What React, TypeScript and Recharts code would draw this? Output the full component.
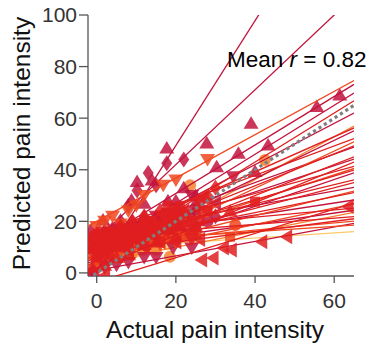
import { ComposedChart, Line, Scatter, XAxis, YAxis, ReferenceDot } from "recharts";

const FONT = "'Liberation Sans', Arial, Helvetica, sans-serif";

// axis ranges and ticks
const X_DOMAIN: [number, number] = [-2.2, 65];
const Y_DOMAIN: [number, number] = [-1.2, 100];
const xTicks = [0, 20, 40, 60];
const yTicks = [0, 20, 40, 60, 80, 100];

const meanR = 0.82;

const PALETTE: Record<string, string> = {
  C: "#c2133d",
  R: "#e01f20",
  O: "#f0471f",
  L: "#f6802c",
  Y: "#fdc86b",
};
// paint order of the colour groups (lowest first)
const LAYER: Record<string, number> = { Y: 0, L: 1, C: 2, O: 3, R: 4 };

// per-subject fit: predicted = intercept + slope * actual
const intercepts = [
  1, 13, 20, 12, 8, 5, 10, 3, 12, 7, 15, 4, 9, 13, 6, 11, 2, 14, 8, 10,
  5, 12, 9, 15, 7, 11, -3.5, 13, 6, 16, 10, 4, 14, 8, 11, 1, 12, 9.5,
];
const slopes = [
  2.42, 1.45, 0.84, 0.94, 0.95, 0.95, 0.8, 0.83, 0.68, 0.74, 0.57, 0.72, 0.62, 0.55, 0.6, 0.51, 0.63, 0.42, 0.5, 0.46,
  0.52, 0.37, 0.4, 0.28, 0.38, 0.31, 0.47, 0.235, 0.32, 0.14, 0.22, 0.3, 0.12, 0.2, 0.14, 0.28, 0.1, 0.1,
];
const colorKeys = [
  "C", "C", "O", "C", "C", "R", "C", "L", "R", "C", "R", "O", "R", "C", "R", "C", "R", "R", "O", "R",
  "C", "R", "R", "C", "O", "R", "R", "C", "O", "R", "C", "L", "R", "R", "O", "C", "O", "Y",
];
const markers = [
  "up", "diamond", "down", "up", "up", "left", "down", "circle", "square", "up", "diamond", "down", "circle", "left", "square", "diamond", "up", "down", "circle", "square",
  "left", "circle", "down", "diamond", "square", "up", "left", "circle", "down", "square", "diamond", "circle", "up", "left", "square", "down", "circle", "circle",
];

// observed trials per subject: [actual, predicted]
const trials: [number, number][][] = [
  [[-1, 1], [1.6, 20.5], [3, 6], [4, 10], [6, 15], [8.8, 28.3], [10.2, 35.4], [12, 27], [14, 36], [17.7, 48.4]],
  [[0, 12], [2, 16], [4, 17], [6, 20], [8, 26], [10.2, 32], [13, 38.7], [15, 34], [17.7, 42.5], [22, 44]],
  [[0, 18], [2, 20], [4, 22], [6, 19], [8, 24], [10, 26], [12, 30], [16.8, 34], [20, 36], [28, 44]],
  [[3, 14], [6, 16], [9, 20], [12, 22], [18, 28], [22, 33], [27.8, 50.4], [39, 58], [55.6, 64.5], [61.4, 69]],
  [[0, 8], [2, 10], [4, 13], [8, 17], [11, 19], [15, 22], [20, 28], [25, 30], [30.3, 41.2], [35.8, 46.4], [43.3, 49.6]],
  [[0, 6], [2, 8], [6, 10], [9, 14], [11, 16], [14, 20], [18, 22], [22, 24], [27, 30]],
  [[1, 12], [4, 14], [6, 14], [9, 18], [13, 20], [15, 22], [18, 23], [24, 30], [34.5, 37.3]],
  [[0, 5], [3, 6], [7, 12], [10, 12], [12, 14], [15, 16], [19, 20], [23.6, 34], [42.5, 43.8]],
  [[-1.5, 12], [0, 12], [2, 14], [5, 15], [7, 16], [10, 17], [14, 20], [18, 26], [21, 26], [26, 28]],
  [[1, 9], [4, 10], [8, 15], [11, 16], [13, 17], [16, 18], [20, 22], [25, 27], [40, 39.3]],
  [[-1, 14], [0, 14], [3, 16], [6, 18], [9, 20], [12, 22], [16, 24], [20, 24], [30, 33]],
  [[0, 4], [3, 7], [5, 8], [9, 12], [12, 13], [16, 18], [20, 18], [28, 24]],
  [[1, 10], [4, 11], [7, 13], [10, 14], [13, 17], [18, 20], [22, 23], [28, 29]],
  [[-1.5, 13], [0, 14], [3, 15], [5, 16], [8, 17], [11, 19], [16, 22], [20, 24], [30, 27]],
  [[0, 6], [2, 7], [5, 10], [8, 11], [11, 12], [15, 15], [20, 18], [40, 27.6]],
  [[0, 11], [3, 12], [7, 15], [10, 16], [12, 17], [15, 19], [19, 21], [25, 24]],
  [[-1, 2], [2, 3], [5, 6], [8, 7], [12, 11], [15, 12], [20, 14], [25, 18], [33.7, 24]],
  [[1, 15], [4, 15], [6, 17], [9, 16], [12, 19], [17, 22], [20, 22], [26, 24]],
  [[0, 8], [2, 9], [6, 11], [9, 12], [11, 13], [14, 15], [17, 16], [22, 20], [35, 18.6]],
  [[-1.5, 10], [0, 10], [2, 11], [5, 12], [9, 14], [13, 16], [16, 18], [19, 20], [28, 24]],
  [[0, 5], [3, 7], [8, 9], [11, 11], [15, 14], [18, 14], [21, 16], [25, 16]],
  [[1, 12], [4, 13], [8, 15], [12, 17], [16, 18], [20, 19], [24, 20]],
  [[0, 9], [3, 10], [7, 11], [10, 13], [14, 16], [18, 16], [24, 13]],
  [[-1.5, 16], [0, 15], [2, 16], [5, 17], [10, 18], [14, 19], [19.3, 22], [24, 22], [30, 22]],
  [[0, 8], [3, 8], [8, 10], [11, 11], [16, 12], [20, 14], [33.7, 14]],
  [[1, 12], [3, 12], [6, 13], [10, 14], [14, 15], [18, 17], [22, 19]],
  [[2, -1], [26.5, 5], [29.4, 5.8], [32, 9.7], [34, 8.9], [41.7, 12.1], [48, 14], [63.5, 25.7]],
  [[0, 13], [3, 14], [6, 14], [9, 15], [13, 16], [17, 18], [21, 18], [28, 20]],
  [[0, 6], [3, 7], [6, 8], [9, 9], [13, 10], [16, 11], [20, 12]],
  [[1, 16], [4, 16], [8, 17], [12, 18], [16, 18], [20, 19], [26, 20]],
  [[-1.5, 9], [0, 10], [3, 11], [7, 12], [10, 12], [14, 13], [18, 14], [22, 15]],
  [[0, 5], [3, 5], [6, 6], [8.8, 7], [12, 9], [15, 9], [18.5, 6.3]],
  [[0, 14], [3, 14], [6, 15], [10, 15], [14, 16], [18, 17], [24, 17]],
  [[0, 8], [3, 8], [8, 9], [12, 10], [16, 12], [20, 12], [26, 13]],
  [[1, 11], [4, 11], [7, 12], [11, 12], [15, 13], [19, 14], [23, 14]],
  [[-1, 0], [2, 2], [5, 3], [8, 4], [12, 6], [15, 6], [19.3, 9.7], [24, 9.7]],
  [[1, 12], [5, 12], [9, 13], [13, 13], [18, 14], [21, 14], [25, 15]],
  [[0, 9], [3, 10], [6, 9], [8, 10], [10.4, 8.3], [12, 10], [14, 11], [18, 11]],
];

function markerShape(kind: string, color: string) {
  return (props: any) => {
    const { cx, cy } = props;
    if (cx == null || cy == null) return <g />;
    const paint = { fill: color, fillOpacity: 0.85, stroke: "none" };
    switch (kind) {
      case "up":
        return <path d={`M${cx},${cy - 7}L${cx + 7.5},${cy + 5.5}L${cx - 7.5},${cy + 5.5}Z`} {...paint} />;
      case "down":
        return <path d={`M${cx},${cy + 7}L${cx + 7.5},${cy - 5.5}L${cx - 7.5},${cy - 5.5}Z`} {...paint} />;
      case "left":
        return <path d={`M${cx - 7},${cy}L${cx + 5.5},${cy - 7.5}L${cx + 5.5},${cy + 7.5}Z`} {...paint} />;
      case "diamond":
        return <path d={`M${cx},${cy - 8}L${cx + 5.5},${cy}L${cx},${cy + 8}L${cx - 5.5},${cy}Z`} {...paint} />;
      case "square":
        return <rect x={cx - 5} y={cy - 5} width={10} height={10} {...paint} />;
      default:
        return <circle cx={cx} cy={cy} r={6} {...paint} />;
    }
  };
}

const subjects = intercepts.map((a, i) => ({
  id: i,
  color: PALETTE[colorKeys[i]],
  layer: 600 + LAYER[colorKeys[i]] * 100 + i * 2,
  marker: markers[i],
  points: trials[i].map(([x, y]) => ({ x, y })),
  fit: X_DOMAIN.map((x) => ({ x, y: a + slopes[i] * x })),
}));

const identity = X_DOMAIN.map((v) => ({ x: v, y: v }));

export default function App() {
  return (
    <div style={{ position: "fixed", left: 0, top: 0, background: "#fff" }}>
      <ComposedChart width={370} height={346} margin={{ top: 15, right: 16, bottom: 0, left: 0 }}>
        <XAxis
          type="number"
          dataKey="x"
          domain={X_DOMAIN}
          ticks={xTicks}
          allowDataOverflow
          height={70}
          tickSize={7}
          tickMargin={10}
          axisLine={{ stroke: "#555", strokeWidth: 1.3 }}
          tickLine={{ stroke: "#555", strokeWidth: 1.3 }}
          tick={{ fill: "#333", fontSize: 21, fontFamily: FONT }}
          label={{
            content: (p: any) => (
              <text
                x={p.viewBox.x + p.viewBox.width / 2 - 6}
                y={p.viewBox.y + 62}
                textAnchor="middle"
                fontSize={24.5}
                fontFamily={FONT}
                fill="#111"
              >
                Actual pain intensity
              </text>
            ),
          }}
        />
        <YAxis
          type="number"
          dataKey="y"
          domain={Y_DOMAIN}
          ticks={yTicks}
          allowDataOverflow
          width={88}
          tickSize={9}
          tickMargin={2}
          axisLine={{ stroke: "#555", strokeWidth: 1.3 }}
          tickLine={{ stroke: "#555", strokeWidth: 1.3 }}
          tick={{ fill: "#333", fontSize: 21, fontFamily: FONT }}
          label={{
            content: (p: any) => {
              const x = p.viewBox.x + 30;
              const y = p.viewBox.y + p.viewBox.height / 2 - 2;
              return (
                <text
                  x={x}
                  y={y}
                  transform={`rotate(-90 ${x} ${y})`}
                  textAnchor="middle"
                  fontSize={24.5}
                  fontFamily={FONT}
                  fill="#111"
                >
                  Predicted pain intensity
                </text>
              );
            },
          }}
        />

        {/* each subject: its trials, then its fit line on top */}
        {subjects.flatMap((s) => [
          <Scatter
            key={`pts${s.id}`}
            data={s.points}
            dataKey="y"
            shape={markerShape(s.marker, s.color)}
            zIndex={s.layer}
            isAnimationActive={false}
          />,
          <Line
            key={`fit${s.id}`}
            data={s.fit}
            dataKey="y"
            type="linear"
            stroke={s.color}
            strokeWidth={1.3}
            dot={false}
            activeDot={false}
            zIndex={s.layer + 1}
            isAnimationActive={false}
          />,
        ])}

        <Line
          data={identity}
          dataKey="y"
          type="linear"
          stroke="#7f7f7f"
          strokeWidth={3.2}
          strokeDasharray="3.2 3.2"
          dot={false}
          activeDot={false}
          zIndex={1200}
          isAnimationActive={false}
        />

        <ReferenceDot
          x={32.9}
          y={79.8}
          r={0}
          fill="none"
          stroke="none"
          zIndex={1300}
          label={{
            content: (p: any) => (
              <text x={p.viewBox.x} y={p.viewBox.y} fontSize={22.5} fontFamily={FONT} fill="#000">
                Mean <tspan fontStyle="italic">r</tspan> = {meanR.toFixed(2)}
              </text>
            ),
          }}
        />
      </ComposedChart>
    </div>
  );
}
